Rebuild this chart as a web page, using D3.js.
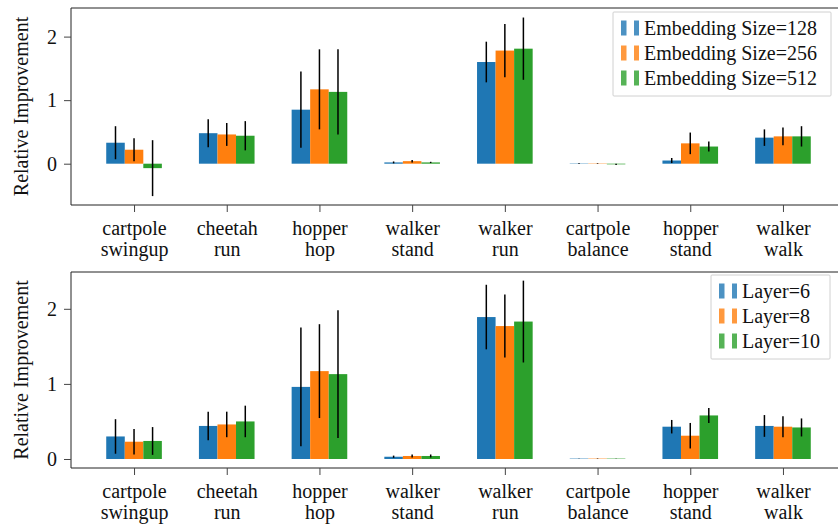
<!DOCTYPE html>
<html>
<head>
<meta charset="utf-8">
<script src="https://cdn.jsdelivr.net/npm/d3@7"></script>
<style>
body { margin: 0; background: #fff; }
svg text { font-family: "Liberation Serif", Tinos, "Times New Roman", Times, "DejaVu Serif", serif; fill: #111; }
</style>
</head>
<body>
<svg id="chart" width="838" height="525"></svg>
<script>
// task names (two lines each)
var tasks = [["cartpole", "swingup"], ["cheetah", "run"], ["hopper", "hop"], ["walker", "stand"],
             ["walker", "run"], ["cartpole", "balance"], ["hopper", "stand"], ["walker", "walk"]];
var colors = ["#1f77b4", "#ff7f0e", "#2ca02c"];
var yTicks = [0, 1, 2];
var serif = "'Liberation Serif', Tinos, 'Times New Roman', Times, 'DejaVu Serif', serif";

// top panel: embedding size
var embLabels = ["Embedding Size=128", "Embedding Size=256", "Embedding Size=512"];
var emb128 = [0.33, 0.48, 0.85, 0.02, 1.60, 0.005, 0.05, 0.41];
var emb128Err = [0.26, 0.22, 0.60, 0.015, 0.32, 0.005, 0.04, 0.13];
var emb256 = [0.22, 0.46, 1.17, 0.04, 1.78, 0.005, 0.32, 0.43];
var emb256Err = [0.18, 0.18, 0.63, 0.02, 0.42, 0.005, 0.17, 0.14];
var emb512 = [-0.07, 0.44, 1.13, 0.02, 1.81, -0.01, 0.27, 0.43];
var emb512Err = [0.44, 0.23, 0.67, 0.01, 0.49, 0.01, 0.08, 0.16];

// bottom panel: number of layers
var layerLabels = ["Layer=6", "Layer=8", "Layer=10"];
var layer6 = [0.30, 0.44, 0.96, 0.03, 1.89, 0.005, 0.43, 0.44];
var layer6Err = [0.23, 0.19, 0.79, 0.015, 0.43, 0.003, 0.09, 0.145];
var layer8 = [0.23, 0.46, 1.17, 0.04, 1.77, 0.005, 0.31, 0.43];
var layer8Err = [0.17, 0.17, 0.625, 0.02, 0.42, 0.003, 0.17, 0.14];
var layer10 = [0.24, 0.50, 1.13, 0.04, 1.83, 0.005, 0.58, 0.42];
var layer10Err = [0.185, 0.21, 0.85, 0.02, 0.545, 0.003, 0.10, 0.12];

var svg = d3.select("#chart");
var barW = 0.2;

var x = d3.scaleLinear().domain([-0.68, 7.68]).range([71, 846]);

var drawPanel = function(cfg) {
    var y = d3.scaleLinear().domain(cfg.yDomain).range([cfg.bottom, cfg.top]);
    var g = svg.append("g");
    var series = [cfg.values[0], cfg.values[1], cfg.values[2]];

    // bars
    series.forEach(function(vals, s) {
        g.selectAll("rect.b" + s).data(vals).enter().append("rect")
            .attr("class", "b" + s)
            .attr("x", function(d, i) { return x(i + (s - 1) * barW - barW / 2); })
            .attr("width", x(barW) - x(0))
            .attr("y", function(d) { return y(Math.max(0, d)); })
            .attr("height", function(d) { return Math.abs(y(d) - y(0)); })
            .attr("fill", colors[s]);
    });
    // error bars
    series.forEach(function(vals, s) {
        var errs = cfg.errors[s];
        g.selectAll("line.e" + s).data(vals).enter().append("line")
            .attr("class", "e" + s)
            .attr("x1", function(d, i) { return x(i + (s - 1) * barW); })
            .attr("x2", function(d, i) { return x(i + (s - 1) * barW); })
            .attr("y1", function(d, i) { return y(d - errs[i]); })
            .attr("y2", function(d, i) { return y(d + errs[i]); })
            .attr("stroke", "#000").attr("stroke-width", 1.5);
    });

    // spines
    g.append("line").attr("x1", x.range()[0]).attr("x2", x.range()[1]).attr("y1", cfg.top).attr("y2", cfg.top)
        .attr("stroke", "#222").attr("stroke-width", 1);
    g.append("line").attr("x1", x.range()[0]).attr("x2", x.range()[1]).attr("y1", cfg.bottom).attr("y2", cfg.bottom)
        .attr("stroke", "#222").attr("stroke-width", 1);
    g.append("line").attr("x1", x.range()[0]).attr("x2", x.range()[0]).attr("y1", cfg.top).attr("y2", cfg.bottom)
        .attr("stroke", "#222").attr("stroke-width", 1);

    // y axis
    var yAxis = g.append("g").attr("transform", "translate(" + x.range()[0] + ",0)")
        .call(d3.axisLeft(y).tickValues(yTicks).tickSize(7).tickPadding(7).tickFormat(d3.format("d")));
    yAxis.attr("font-family", serif).attr("font-size", 20);
    yAxis.select(".domain").remove();
    yAxis.selectAll("line").attr("stroke", "#444");

    // x axis
    var xAxis = g.append("g").attr("transform", "translate(0," + cfg.bottom + ")")
        .call(d3.axisBottom(x).tickValues(d3.range(tasks.length)).tickSize(7).tickFormat(""));
    xAxis.attr("font-family", serif).attr("font-size", 20);
    xAxis.select(".domain").remove();
    xAxis.selectAll("line").attr("stroke", "#444");
    xAxis.selectAll(".tick").append("text")
        .attr("text-anchor", "middle")
        .each(function(d) {
            var t = d3.select(this);
            t.append("tspan").attr("x", 0).attr("y", 30).text(tasks[d][0]);
            t.append("tspan").attr("x", 0).attr("y", 51).text(tasks[d][1]);
        });

    // y label
    g.append("text")
        .attr("transform", "translate(28," + ((cfg.top + cfg.bottom) / 2) + ") rotate(-90)")
        .attr("text-anchor", "middle").attr("font-size", 20)
        .text("Relative Improvement");

    // legend
    var lg = g.append("g");
    lg.append("rect").attr("x", cfg.legend.x).attr("y", cfg.legend.y)
        .attr("width", cfg.legend.w).attr("height", cfg.legend.h)
        .attr("fill", "#fff").attr("stroke", "#d0d0d0").attr("stroke-width", 1).attr("rx", 1);
    cfg.labels.forEach(function(lab, s) {
        var cy = cfg.legend.y + 16 + s * 25;
        var hx = cfg.legend.x + 8;
        lg.append("rect").attr("x", hx).attr("y", cy - 7.5).attr("width", 5.5).attr("height", 15)
            .attr("fill", colors[s]).attr("opacity", 0.8);
        lg.append("rect").attr("x", hx + 13).attr("y", cy - 7.5).attr("width", 5).attr("height", 15)
            .attr("fill", colors[s]).attr("opacity", 0.8);
        lg.append("text").attr("x", hx + 23).attr("y", cy).attr("dy", "0.35em")
            .attr("font-size", 20).text(lab);
    });
};

drawPanel({
    top: 8, bottom: 205, yDomain: [-0.65, 2.45],
    values: [emb128, emb256, emb512], errors: [emb128Err, emb256Err, emb512Err],
    labels: embLabels, legend: {x: 613, y: 12, w: 218, h: 84}
});
drawPanel({
    top: 272, bottom: 468, yDomain: [-0.12, 2.49],
    values: [layer6, layer8, layer10], errors: [layer6Err, layer8Err, layer10Err],
    labels: layerLabels, legend: {x: 711, y: 275, w: 119, h: 84}
});
</script>
</body>
</html>
